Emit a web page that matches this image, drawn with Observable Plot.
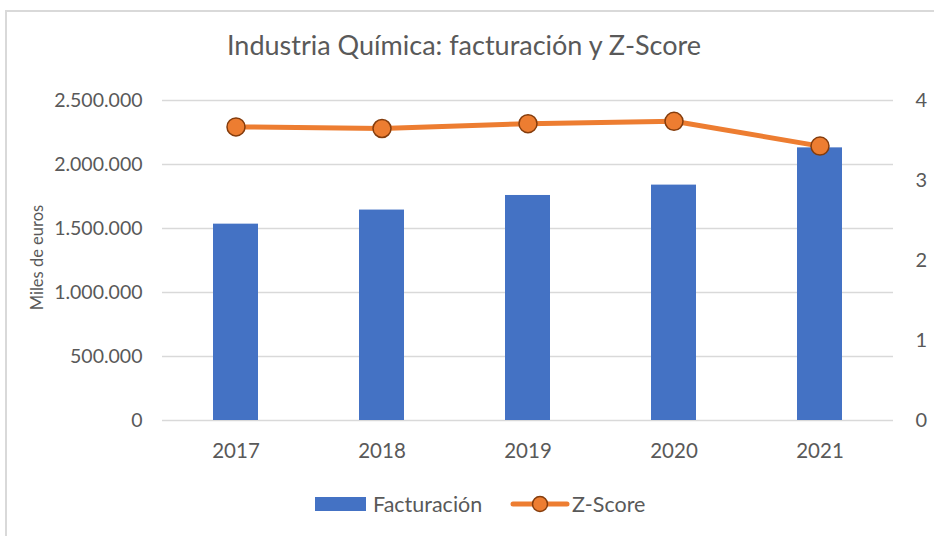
<!DOCTYPE html>
<html>
<head>
<meta charset="utf-8">
<script src="https://cdn.jsdelivr.net/npm/d3@7"></script>
<script src="https://cdn.jsdelivr.net/npm/@observablehq/plot@0.6"></script>
<style>
  html, body { margin: 0; padding: 0; background: white; overflow: hidden; }
  #wrap { position: relative; width: 934px; height: 536px; overflow: hidden; font-family: Lato, "Open Sans", sans-serif; color: #595959; }
  #frame { position: absolute; left: 5px; top: 10px; width: 1000px; height: 600px; border: 2px solid #d9d9d9; box-sizing: border-box; }
  #title { position: absolute; left: 0; width: 928px; top: 31px; text-align: center; font-size: 27px; line-height: 27px; white-space: nowrap; }
  #chart { position: absolute; left: 0; top: 80px; }
  #legend { position: absolute; left: 0; top: 491px; width: 934px; height: 26px; font-size: 21.5px; }
  .li { position: absolute; top: 0; line-height: 26px; white-space: nowrap; }
</style>
</head>
<body>
<div id="wrap">
  <div id="frame"></div>
  <div id="title"></div>
  <div id="chart"></div>
  <div id="legend"></div>
</div>
<script>
const title = "Industria Química: facturación y Z-Score";
const yLabel = "Miles de euros";
const years = ["2017", "2018", "2019", "2020", "2021"];
const facturacion = [1534000, 1644000, 1758000, 1839000, 2130000];
const zscore = [3.67, 3.65, 3.71, 3.74, 3.43];
const leftTicks = [0, 500000, 1000000, 1500000, 2000000, 2500000];
const rightTicks = [0, 1, 2, 3, 4];
const seriesNames = ["Facturación", "Z-Score"];
const colors = { bar: "#4472C4", line: "#ED7D31", dotStroke: "#843C0C", grid: "#d9d9d9", text: "#595959" };

const SCALE = leftTicks[leftTicks.length - 1] / rightTicks[rightTicks.length - 1];
const data = years.map((year, i) => ({ year, fact: facturacion[i], z: zscore[i] }));
const fmt = d3.formatLocale({ decimal: ",", thousands: ".", grouping: [3], currency: ["", "€"] }).format(",");

document.getElementById("title").textContent = title;

const chart = Plot.plot({
  width: 934,
  height: 400,
  marginLeft: 162,
  marginRight: 41,
  marginTop: 20,
  marginBottom: 60,
  style: { fontFamily: "Lato, 'Open Sans', sans-serif", fontSize: "20px", color: colors.text, background: "transparent", overflow: "visible" },
  x: { domain: years, paddingInner: 0.69, paddingOuter: 0.345 },
  y: { domain: [0, leftTicks[leftTicks.length - 1]] },
  marks: [
    Plot.ruleY(leftTicks, { stroke: colors.grid, strokeWidth: 1.5 }),
    Plot.barY(data, { x: "year", y: "fact", fill: colors.bar }),
    Plot.line(data, { x: "year", y: d => d.z * SCALE, stroke: colors.line, strokeWidth: 5, strokeLinecap: "round", strokeLinejoin: "round" }),
    Plot.dot(data, { x: "year", y: d => d.z * SCALE, r: 9, fill: colors.line, stroke: colors.dotStroke, strokeWidth: 1.5 }),
    Plot.axisY({ anchor: "left", ticks: leftTicks, tickFormat: fmt, tickSize: 0, tickPadding: 20, label: null, fontSize: 19.5 }),
    Plot.axisY({ anchor: "right", ticks: rightTicks.map(v => v * SCALE), tickFormat: d => String(d / SCALE), tickSize: 0, tickPadding: 22, label: null, fontSize: 20 }),
    Plot.axisX({ tickSize: 0, tickPadding: 23, label: null, fontSize: 20.5 }),
    Plot.text([yLabel], { frameAnchor: "left", textAnchor: "middle", dx: -125, dy: -3, rotate: -90, fontSize: 16.5, fill: colors.text })
  ]
});
document.getElementById("chart").appendChild(chart);

// Legend
const legend = document.getElementById("legend");
legend.innerHTML = `
  <svg class="li" style="left:315px" width="52" height="26"><rect x="0" y="6" width="51" height="14" fill="${colors.bar}"/></svg>
  <span class="li" style="left:373px">${seriesNames[0]}</span>
  <svg class="li" style="left:510px" width="60" height="26">
    <line x1="3" y1="13" x2="57" y2="13" stroke="${colors.line}" stroke-width="5" stroke-linecap="round"/>
    <circle cx="30" cy="13" r="7.5" fill="${colors.line}" stroke="${colors.dotStroke}" stroke-width="1.5"/>
  </svg>
  <span class="li" style="left:572px">${seriesNames[1]}</span>`;
</script>
</body>
</html>
